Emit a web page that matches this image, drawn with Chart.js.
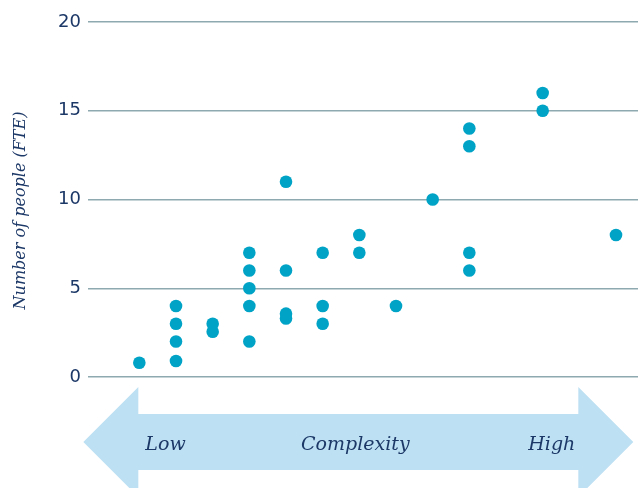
<!DOCTYPE html>
<html>
<head>
<meta charset="utf-8">
<script src="https://cdn.jsdelivr.net/npm/chart.js@4/dist/chart.umd.min.js"></script>
<style>
  html, body { margin: 0; padding: 0; background: #fff; overflow: hidden; }
  canvas { display: block; }
</style>
</head>
<body>
<canvas id="fteChart" width="638" height="488"></canvas>
<script>
// Position of each task along the complexity scale (1 = lowest)
const complexity = [1, 2, 2, 2, 2, 3, 3, 4, 4, 4, 4, 4, 5, 5, 5, 5, 6, 6, 6, 7, 7, 8, 9, 10, 10, 10, 10, 12, 12, 14];
// Number of people (FTE) for each task
const fte = [0.8, 4, 3, 2, 0.9, 3, 2.55, 7, 6, 5, 4, 2, 11, 6, 3.57, 3.3, 7, 4, 3, 8, 7, 4, 10, 14, 13, 7, 6, 16, 15, 8];
const yTicks = [0, 5, 10, 15, 20];
const yTitle = 'Number of people (FTE)';
const arrowLabels = ['Low', 'Complexity', 'High'];

const navy = '#1c3867';
const dotColor = '#00a3c6';
const gridColor = '#8eaab0';
const arrowColor = '#bde0f3';

const points = complexity.map((c, i) => ({ x: c, y: fte[i] }));

// Rotated axis title plus the double-headed arrow under the plot
const complexityArrow = {
    id: 'complexityArrow',
    afterDraw(chart) {
        const ctx = chart.ctx;
        const xs = chart.scales.x;
        const area = chart.chartArea;

        ctx.save();
        ctx.fillStyle = navy;
        ctx.font = 'italic 16px "DejaVu Serif"';
        ctx.textAlign = 'center';
        ctx.textBaseline = 'middle';
        ctx.translate(21, (area.top + area.bottom) / 2 + 11);
        ctx.rotate(-Math.PI / 2);
        ctx.fillText(yTitle, 0, 0);
        ctx.restore();

        const leftBase = xs.getPixelForValue(1) - 1;
        const rightBase = xs.getPixelForValue(13) - 1;
        const head = 55;
        const cy = area.bottom + 65;
        const half = 28;

        ctx.save();
        ctx.fillStyle = arrowColor;
        ctx.beginPath();
        ctx.moveTo(leftBase - head, cy);
        ctx.lineTo(leftBase, cy - head);
        ctx.lineTo(leftBase, cy - half);
        ctx.lineTo(rightBase, cy - half);
        ctx.lineTo(rightBase, cy - head);
        ctx.lineTo(rightBase + head, cy);
        ctx.lineTo(rightBase, cy + head);
        ctx.lineTo(rightBase, cy + half);
        ctx.lineTo(leftBase, cy + half);
        ctx.lineTo(leftBase, cy + head);
        ctx.closePath();
        ctx.fill();

        ctx.fillStyle = navy;
        ctx.font = 'italic 19px "DejaVu Serif"';
        ctx.textBaseline = 'alphabetic';
        const base = cy + 8;
        ctx.textAlign = 'left';
        ctx.fillText(arrowLabels[0], leftBase + 7, base);
        ctx.textAlign = 'center';
        ctx.fillText(arrowLabels[1], (leftBase + rightBase) / 2 - 3, base);
        ctx.textAlign = 'right';
        ctx.fillText(arrowLabels[2], rightBase - 3, base);
        ctx.restore();
    }
};

new Chart(document.getElementById('fteChart'), {
    type: 'scatter',
    data: {
        datasets: [{
            data: points,
            backgroundColor: dotColor,
            borderColor: dotColor,
            pointRadius: 6.3,
            pointHoverRadius: 6.3,
            borderWidth: 0
        }]
    },
    options: {
        responsive: false,
        animation: false,
        clip: false,
        layout: {
            autoPadding: false,
            padding: { top: 22, right: 0, bottom: 111, left: 0 }
        },
        plugins: {
            legend: { display: false },
            tooltip: { enabled: false }
        },
        scales: {
            x: {
                type: 'linear',
                min: -0.4,
                max: 14.6,
                display: false
            },
            y: {
                min: 0,
                max: 20,
                afterBuildTicks: (scale) => {
                    scale.ticks = yTicks.map(v => ({ value: v }));
                },
                afterFit: (scale) => { scale.width = 88; },
                border: { display: false },
                grid: {
                    color: gridColor,
                    lineWidth: 1.5,
                    drawTicks: false
                },
                ticks: {
                    color: navy,
                    padding: 7,
                    font: { family: '"DejaVu Sans"', size: 18, weight: 'normal' }
                }
            }
        }
    },
    plugins: [complexityArrow]
});
</script>
</body>
</html>
